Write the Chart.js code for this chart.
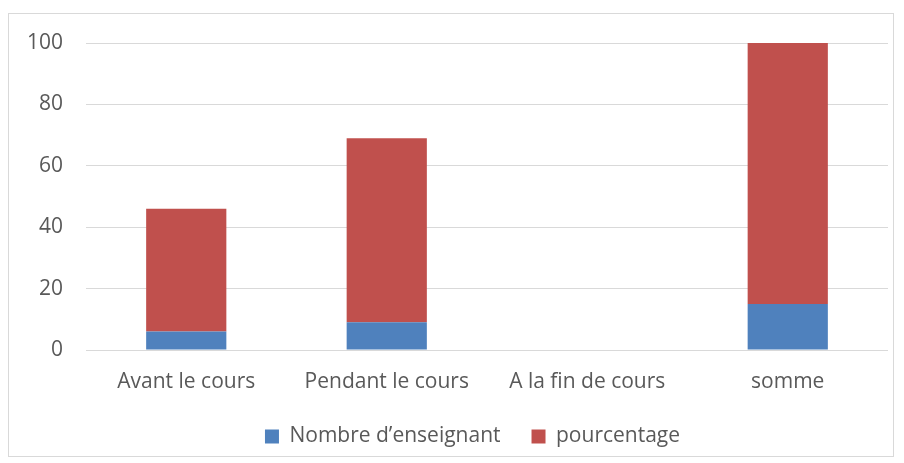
<!DOCTYPE html>
<html lang="fr">
<head>
    <meta charset="UTF-8">
    <title>Enseignants</title>
    <style>
        body {
            margin: 0;
            padding: 0;
            background: #ffffff;
        }
        .chart-box {
            position: absolute;
            left: 8px;
            top: 13px;
            width: 886px;
            height: 444px;
            border: 1px solid #d9d9d9;
            box-sizing: border-box;
        }
    </style>
</head>
<body>
    <div class="chart-box">
        <canvas id="barChart"></canvas>
    </div>

    <script src="https://cdn.jsdelivr.net/npm/chart.js"></script>
    <script>
        // data
        const categories = ['Avant le cours', 'Pendant le cours', 'A la fin de cours', 'somme'];
        const nombre = [6, 9, 0, 15];
        const pourcentage = [40, 60, 0, 100];
        const yTicks = [0, 20, 40, 60, 80, 100];

        Chart.defaults.font.family = '"Open Sans", sans-serif';
        Chart.defaults.font.size = 21;
        Chart.defaults.color = '#595959';

        // legend: wide gap between items but a short box, shifted a bit right
        const legendTweak = {
            id: 'legendTweak',
            beforeInit(chart) {
                const legend = chart.legend;
                const fit = legend.fit.bind(legend);
                legend.fit = function () {
                    fit();
                    this.height -= 1;
                };
            },
            afterLayout(chart) {
                chart.legend.left += 15;
                chart.legend.right += 15;
            }
        };

        new Chart(document.getElementById('barChart').getContext('2d'), {
            type: 'bar',
            data: {
                labels: categories,
                datasets: [{
                    label: 'Nombre d\u2019enseignant',
                    data: nombre,
                    backgroundColor: '#4f81bd',
                    categoryPercentage: 0.4,
                    barPercentage: 1
                }, {
                    label: 'pourcentage',
                    data: pourcentage,
                    backgroundColor: '#c0504d',
                    categoryPercentage: 0.4,
                    barPercentage: 1
                }]
            },
            options: {
                responsive: true,
                maintainAspectRatio: false,
                animation: false,
                layout: {
                    padding: { left: 18, right: 5, top: 29, bottom: 0 }
                },
                scales: {
                    x: {
                        stacked: true,
                        grid: { display: false, drawTicks: false },
                        border: { display: false },
                        ticks: { padding: 19 },
                        afterFit: s => {
                            s.paddingLeft = 0;
                            s.paddingRight = 0;
                            s.height = 45;
                        }
                    },
                    y: {
                        stacked: true,
                        min: 0,
                        max: 100,
                        afterBuildTicks: axis => {
                            axis.ticks = yTicks.map(v => ({ value: v }));
                        },
                        grid: { color: '#d9d9d9', lineWidth: 1, drawTicks: false },
                        border: { display: false },
                        ticks: { padding: 23 },
                        afterFit: s => {
                            s.width = 59;
                            s.paddingTop = 0;
                            s.paddingBottom = 0;
                        }
                    }
                },
                plugins: {
                    legend: {
                        position: 'bottom',
                        labels: {
                            boxWidth: 14,
                            boxHeight: 14,
                            padding: 31
                        }
                    },
                    tooltip: { enabled: false }
                }
            },
            plugins: [legendTweak]
        });
    </script>
</body>
</html>
